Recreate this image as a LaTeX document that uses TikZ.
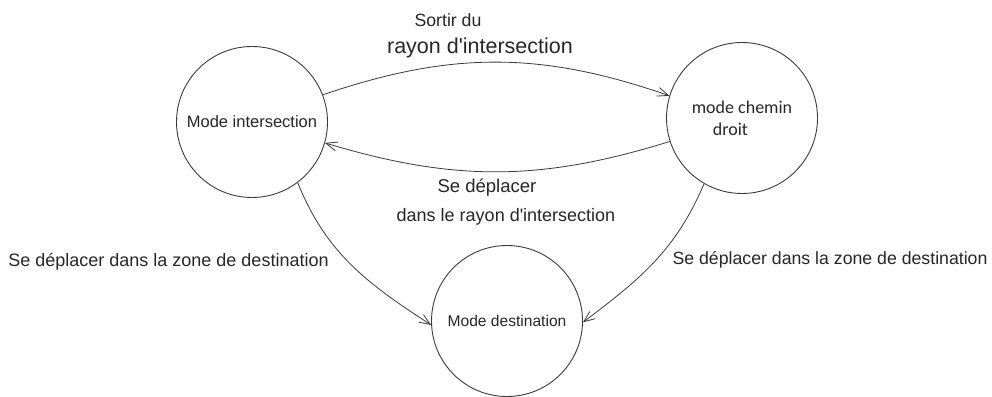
\documentclass[tikz,border=0pt]{standalone}
\usepackage{fontspec}
\setmainfont{Liberation Sans}
\newfontfamily\calib{Carlito}
\usetikzlibrary{arrows.meta}
\definecolor{ink}{HTML}{3A3A3A}
\definecolor{txt}{HTML}{262626}
\tikzset{
  state/.style={circle, draw=ink, line width=0.9pt, minimum size=151pt, inner sep=0pt, text=txt},
  trans/.style={draw=ink, line width=0.8pt, -{Straight Barb[length=11pt,width=9pt]}},
  lab/.style={inner sep=0pt, text=txt},
}
\begin{document}
\begin{tikzpicture}[x=1pt,y=1pt]
\useasboundingbox (0,0) rectangle (992,396);
\node[state, font=\fontsize{16.5}{20}\selectfont] (inter) at (252,274) {Mode intersection};
\node[state, align=left, font=\calib\fontsize{18}{22}\selectfont] (chemin) at (742,278) {mode chemin\\\hspace*{21pt}droit};
\node[state, font=\fontsize{15.6}{19}\selectfont] (dest) at (507,75) {Mode destination};

\draw[trans] (inter.21) to[bend left=19] (chemin.163);
\draw[trans] (chemin.198) to[bend left=17] (inter.-16);
\draw[trans] (inter.-53) to[out=-68, in=147] (dest.183);
\draw[trans] (chemin.240) to[out=-113, in=37] (dest.-1);

\node[lab, font=\fontsize{17.7}{20}\selectfont] (l1a) at (448,376) {Sortir du};
\node[lab, font=\fontsize{21.5}{24}\selectfont] (l1b) at (480,348) {rayon d\textquotesingle intersection};
\node[lab, font=\fontsize{18.5}{21}\selectfont] (l2a) at (487,208) {Se déplacer};
\node[lab, font=\fontsize{18}{21}\selectfont] (l2b) at (506,179) {dans le rayon d\textquotesingle intersection};
\node[lab, font=\fontsize{18}{21}\selectfont] (l3) at (168.5,134) {Se déplacer dans la zone de destination};
\node[lab, font=\fontsize{17.7}{21}\selectfont] (l4) at (830,136) {Se déplacer dans la zone de destination};
\end{tikzpicture}
\end{document}
